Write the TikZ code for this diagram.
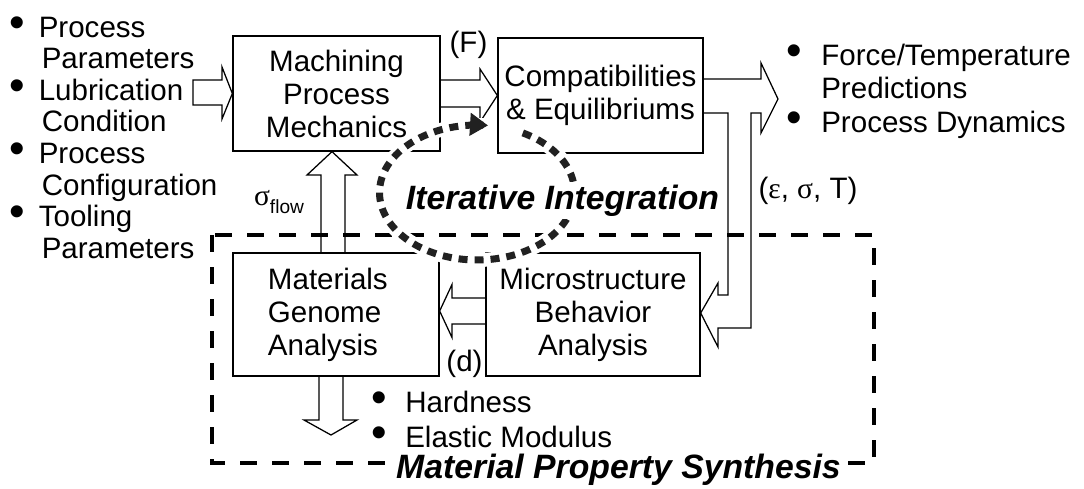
\documentclass[tikz,border=0pt]{standalone}
\usepackage{fontspec}
\setmainfont{Liberation Sans}
\newfontfamily\greekfont{Liberation Serif}
\usetikzlibrary{arrows.meta, calc}

\newcommand{\pxl}{0.025cm}
\newcommand{\bodysize}{\fontsize{21pt}{23.5pt}\selectfont}
\newcommand{\bannersize}{\fontsize{24pt}{26pt}\selectfont\bfseries\itshape}
\newcommand{\bul}[1]{\makebox[#1][l]{\scalebox{1.5}{•}}}

\tikzset{
  box/.style={draw, line width=0.9pt, inner sep=0pt, align=center, font=\bodysize},
  hollow/.style={draw, line width=0.9pt, line join=miter},
  blist/.style={align=left, inner sep=0pt},
  tag/.style={inner sep=1pt, font=\bodysize},
  banner/.style={fill=white, inner sep=2pt, font=\bannersize},
  synthframe/.style={draw, line width=3.3pt, dash pattern=on 0.425cm off 0.375cm},
  halo/.style={draw=white, line width=0.35cm},
  loopdots/.style={draw=black!87, line width=0.175cm, dash pattern=on 0.225cm off 0.175cm}
}

\begin{document}
\begin{tikzpicture}[x=\pxl, y=-\pxl]
  \useasboundingbox (0,0) rectangle (1084,488);
  % Analysis blocks
  \node[box, minimum width=5.175cm, minimum height=2.875cm] (mpm)
        at (336.5,93.5) {Machining\\Process\\Mechanics};
  \node[box, minimum width=5.125cm, minimum height=2.875cm] (comp)
        at (600.5,95.5) {Compatibilities\\\& Equilibriums};
  \node[box, text width=3.4cm, inner xsep=0.875cm, minimum height=3.075cm,
        align=left] (mga) at (336,314.5) {Materials\\Genome\\Analysis};
  \node[box, minimum width=5.35cm, minimum height=3.075cm] (mba)
        at (593,314.5) {Microstructure\\Behavior\\Analysis};
  % Bullet lists (base = last line)
  \node[blist, anchor=base west, font=\fontsize{21pt}{22.5pt}\selectfont] (inputs)
        at (9.5,258.5) {\bul{0.725cm}Process\\\hspace*{0.8cm}Parameters\\
        \bul{0.725cm}Lubrication\\\hspace*{0.8cm}Condition\\
        \bul{0.725cm}Process\\\hspace*{0.8cm}Configuration\\
        \bul{0.725cm}Tooling\\\hspace*{0.8cm}Parameters};
  \node[blist, anchor=base west, font=\fontsize{21pt}{23.8pt}\selectfont] (outputs)
        at (786,132) {\bul{0.875cm}Force/Temperature\\\hspace*{0.875cm}Predictions\\
        \bul{0.875cm}Process Dynamics};
  \node[blist, anchor=base west, font=\fontsize{21pt}{24.2pt}\selectfont] (props)
        at (371,447) {\bul{0.85cm}Hardness\\\bul{0.85cm}Elastic Modulus};
  % Free ends of the block arrows
  \coordinate (outtip) at (778,99);
  \coordinate (dwntip) at (331,435);
  % Block arrows
  \draw[hollow] (mpm.west) -- (222,67) -- (222,80) -- (193,80) -- (193,105)
        -- (222,105) -- (222,119) -- cycle;
  \draw[hollow] (mpm.east |- 0,80) -- (480,80) -- (480,69) -- (comp.west)
        -- (480,122) -- (480,107) -- (mpm.east |- 0,107);
  \draw[hollow] (comp.east |- 0,79) -- (761,79) -- (761,63) -- (outtip)
        -- (761,133) -- (761,113) -- (751,113) -- (751,328) -- (718,328)
        -- (718,347) -- (mba.east |- 0,313) -- (718,283) -- (718,295)
        -- (728,295) -- (728,113) -- (comp.east |- 0,113);
  \draw[hollow] (mba.west |- 0,298) -- (452,298) -- (452,284.5)
        -- (mga.east |- 0,311) -- (452,337.5) -- (452,324) -- (mba.west |- 0,324);
  \draw[hollow] (mga.north -| 321,0) -- (321,175) -- (307,175)
        -- (mpm.south -| 332,0) -- (357,175) -- (345,175) -- (mga.north -| 345,0);
  \draw[hollow] (mga.south -| 319,0) -- (319,420) -- (304,420) -- (dwntip)
        -- (357,420) -- (343,420) -- (mga.south -| 343,0);
  % Synthesis frame
  \draw[synthframe] (212,235) rectangle (874,463);
  % Iteration loop
  \draw[halo] plot[domain=-62:276.5, samples=120]
        ({477+97.5*cos(\x)}, {192.5+67.5*sin(\x)});
  \draw[loopdots, -{Triangle[length=0.45cm, width=0.55cm]}]
        plot[domain=-62:276.5, samples=120]
        ({477+97.5*cos(\x)}, {192.5+67.5*sin(\x)});
  % Labels
  \node[tag, anchor=base] (force) at (468.5,52) {(F)};
  \node[tag, anchor=base] (sflow) at (279,205)
        {{\greekfont σ}\raisebox{-0.2cm}{\fontsize{13.6pt}{14pt}\selectfont flow}};
  \node[tag, anchor=base] (state) at (808,198)
        {({\greekfont ε}, {\greekfont σ}, T)};
  \node[tag, anchor=base] (dlab) at (464.5,371) {(d)};
  \node[banner, anchor=base] (iter) at (562.5,209) {Iterative Integration};
  \node[banner, anchor=base] (mps) at (618.5,478) {Material Property Synthesis};
\end{tikzpicture}
\end{document}
